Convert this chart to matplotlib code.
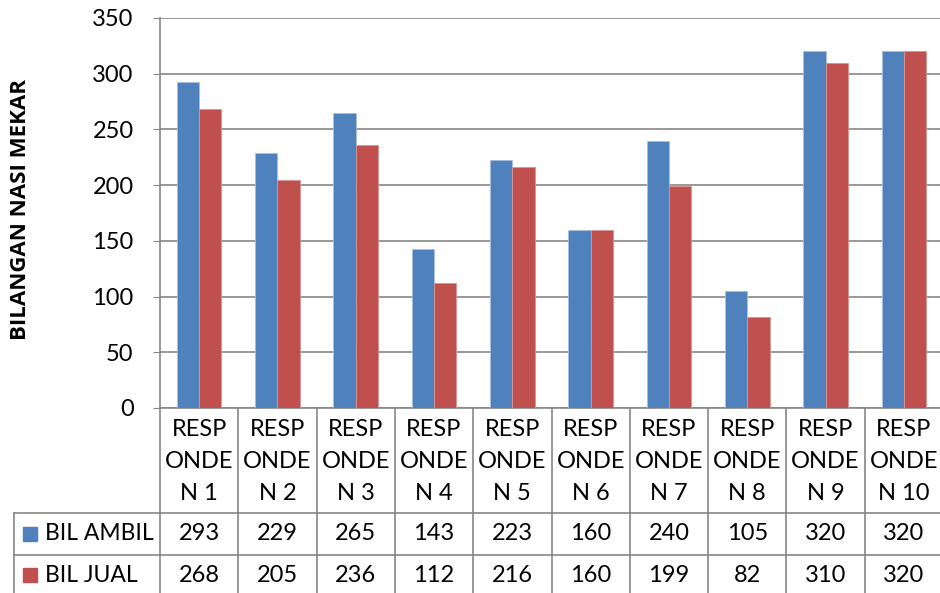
import numpy as np
import matplotlib
matplotlib.use("Agg")
from matplotlib import pyplot as plt
import matplotlib.transforms as mtransforms

# %% data
categories = ["RESP\nONDE\nN 1", "RESP\nONDE\nN 2", "RESP\nONDE\nN 3", "RESP\nONDE\nN 4",
              "RESP\nONDE\nN 5", "RESP\nONDE\nN 6", "RESP\nONDE\nN 7", "RESP\nONDE\nN 8",
              "RESP\nONDE\nN 9", "RESP\nONDE\nN 10"]
bil_ambil = [293, 229, 265, 143, 223, 160, 240, 105, 320, 320]
bil_jual = [268, 205, 236, 112, 216, 160, 199, 82, 310, 320]
series_names = ["BIL AMBIL", "BIL JUAL"]
colors = ["#4F81BD", "#C0504D"]
yticks = [0, 50, 100, 150, 200, 250, 300, 350]

plt.rcParams['font.family'] = ['Lato', 'DejaVu Sans']
W, H = 940, 593
grid_col = "#868686"
fs = 17

fig = plt.figure(figsize=(W/100, H/100), dpi=100)

# plot area in pixel coords (left, top, right, bottom)
pl, pt, pr, pb = 160, 18, 943, 408
ax = fig.add_axes([pl/W, 1-pb/H, (pr-pl)/W, (pb-pt)/H])

x = np.arange(len(categories))
w = 0.285
ax.bar(x - w/2, bil_ambil, w, color=colors[0], edgecolor="#a7c0de", linewidth=0.6, zorder=3)
ax.bar(x + w/2, bil_jual, w, color=colors[1], edgecolor="#d99694", linewidth=0.6, zorder=3)

ax.set_xlim(-0.5, len(categories)-0.5)
ax.set_ylim(0, 350)
ax.set_yticks(yticks)
ax.set_yticklabels([str(v) for v in yticks], fontsize=fs)
ax.set_xticks([])
ax.grid(axis="y", color=grid_col, linewidth=1.2, zorder=0)
for s in ["top", "right"]:
    ax.spines[s].set_visible(False)
for s in ["left", "bottom"]:
    ax.spines[s].set_color(grid_col)
    ax.spines[s].set_linewidth(1.2)
ax.tick_params(axis="y", length=5, color=grid_col, pad=14)

fig.text(21/W, 1-209/H, "BILANGAN NASI MEKAR", rotation=90, fontsize=16,
         fontweight="bold", family=["Open Sans", "DejaVu Sans"], ha="center", va="center")

# %% data table below the plot
tr = mtransforms.blended_transform_factory(ax.transData, fig.transFigure)
def fy(py):
    return 1 - py/H

row_lines = [513, 555]
tab_bottom = 600
line_kw = dict(color=grid_col, linewidth=1.2, clip_on=False)

for i in range(len(categories)+1):
    ax.plot([i-0.5, i-0.5], [fy(pb), fy(tab_bottom)], transform=tr, **line_kw)
for py in row_lines:
    fig.add_artist(plt.Line2D([14/W, 1], [fy(py), fy(py)], **line_kw))
fig.add_artist(plt.Line2D([14/W, 14/W], [fy(row_lines[0]), fy(tab_bottom)], **line_kw))

for i, lab in enumerate(categories):
    for j, part in enumerate(lab.split("\n")):
        ax.text(i, fy(430 + 32*j), part, transform=tr, ha="center", va="center", fontsize=fs)
    ax.text(i, fy(534), str(bil_ambil[i]), transform=tr, ha="center", va="center", fontsize=fs)
    ax.text(i, fy(575), str(bil_jual[i]), transform=tr, ha="center", va="center", fontsize=fs)

for k, (name, c) in enumerate(zip(series_names, colors)):
    cy = [534, 575][k]
    fig.patches.append(plt.Rectangle((23/W, fy(cy+7)), 14/W, 14/H, color=c,
                                     transform=fig.transFigure, figure=fig))
    fig.text(45/W, fy(cy), name, ha="left", va="center", fontsize=16.5)

fig.savefig("out.png", dpi=100)
